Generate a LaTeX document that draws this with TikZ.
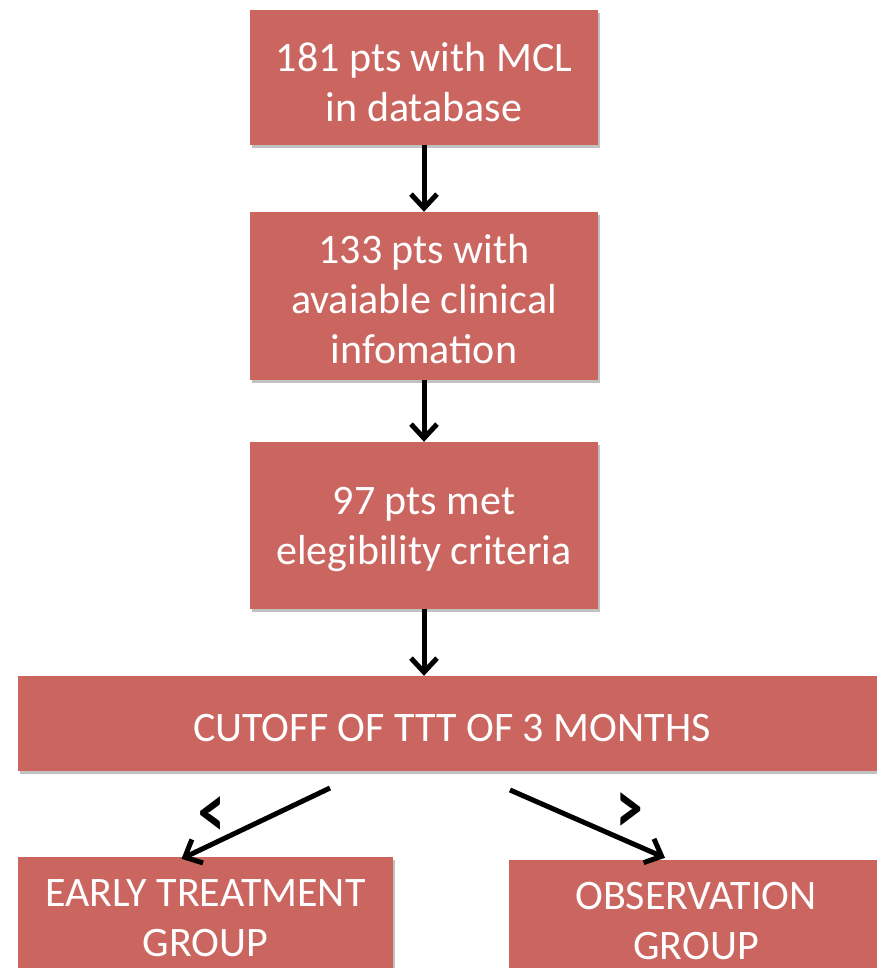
\documentclass[tikz,border=0pt]{standalone}
\usepackage{fontspec}
\setmainfont{Carlito}
\usetikzlibrary{arrows.meta,shadows,calc}
\definecolor{boxred}{HTML}{CB655F}
\tikzset{
  box/.style={rectangle, fill=boxred, inner sep=0pt,
    drop shadow={shadow xshift=2pt, shadow yshift=-3pt, opacity=0.35, fill=black!70}},
  txt/.style={text=white, align=center, inner sep=0pt, font=\fontsize{42}{50}\selectfont},
  arr/.style={draw=black, line width=5pt, -{Straight Barb[length=14pt,width=26pt,line width=5pt]}},
  cmp/.style={font=\fontsize{66}{70}\selectfont\bfseries, text=black, inner sep=0pt, xscale=0.8, yscale=1.15}
}
\begin{document}
\begin{tikzpicture}[x=1pt,y=-1pt]
\useasboundingbox (0,0) rectangle (877,968);
\node[box, minimum width=348pt, minimum height=135pt] (b1) at (424,77.5) {};
\node[box, minimum width=348pt, minimum height=168pt] (b2) at (424,296) {};
\node[box, minimum width=348pt, minimum height=167pt] (b3) at (424,525.5) {};
\node[box, minimum width=868pt, minimum height=95pt] (b4) at (452,723.5) {};
\node[box, minimum width=375pt, minimum height=118pt] (b5) at (205.5,916) {};
\node[box, minimum width=374pt, minimum height=120pt] (b6) at (696,920) {};
\node[txt] (t1) at ($(b1)+(0,5)$) {181 pts with MCL\\in database};
\node[txt] (t2) at ($(b2)+(0,3)$) {133 pts with\\avaiable clinical\\infomation};
\node[txt] (t3) at ($(b3)+(0,4)$) {97 pts met\\elegibility criteria};
\node[txt] (t4) at ($(b4)+(0,5)$) {CUTOFF OF TTT OF 3 MONTHS};
\node[txt] (t5) at ($(b5)+(0,2)$) {EARLY TREATMENT\\GROUP};
\node[txt] (t6) at ($(b6)+(0,1)$) {OBSERVATION\\GROUP};
\draw[arr] (b1.south) -- (b2.north);
\draw[arr] (b2.south) -- (b3.north);
\draw[arr] (b3.south) -- (b3.south |- b4.north);
\coordinate (sl) at (330,788);
\coordinate (sr) at (510,790);
\draw[arr] (sl) -- ($(b5.north)+(-24,2)$);
\draw[arr] (sr) -- ($(b6.north)+(-31,-2)$);
\node[cmp] (lt) at (212,817) {<};
\node[cmp] (gt) at (630,813) {>};
\end{tikzpicture}
\end{document}
